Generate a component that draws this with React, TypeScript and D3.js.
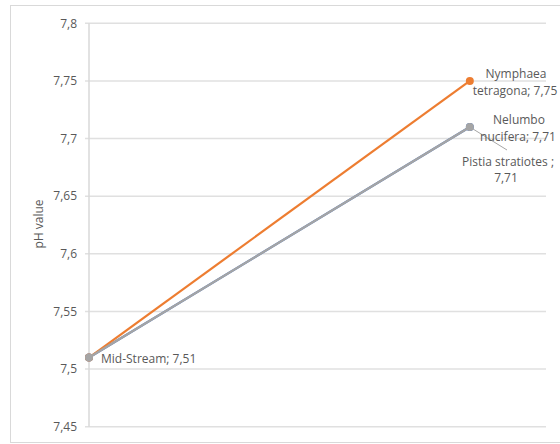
import React from "react";
import * as d3 from "d3";

const categories = ["Mid-Stream", "Plant"];
const xPositions = [0, 1];
const seriesNames = ["Nelumbo nucifera", "Nymphaea tetragona", "Pistia stratiotes "];
const nelumboValues = [7.51, 7.71];
const nymphaeaValues = [7.51, 7.75];
const pistiaValues = [7.51, 7.71];
const yTicks = [7.45, 7.5, 7.55, 7.6, 7.65, 7.7, 7.75, 7.8];
const yTitle = "pH value";

const colors = ["#4472C4", "#ED7D31", "#A5A5A5"];
const font = "Open Sans, Calibri, sans-serif";

export default function App() {
  const W = 560, H = 444;
  const x = d3.scaleLinear().domain([0, 1.2]).range([89, 546]);
  const y = d3.scaleLinear().domain([7.45, 7.8]).range([426.7, 23.3]);
  const fmt = (v: number) => String(+v.toFixed(2)).replace(".", ",");
  const line = d3.line<number>().x((_, i) => x(xPositions[i])).y((d) => y(d));
  const allSeries = [nelumboValues, nymphaeaValues, pistiaValues];
  const textColor = "#595959";

  return (
    <svg width={W} height={H} style={{ position: "absolute", left: 0, top: 0 }}>
      <rect x={0} y={0} width={W} height={H} fill="#fff" />
      <rect x={10.5} y={5.5} width={560} height={437} fill="#fff" stroke="#d9d9d9" strokeWidth={1} />
      {yTicks.map((t) => (
        <g key={t}>
          <line x1={x(0) - 4} x2={x(1.2)} y1={y(t)} y2={y(t)} stroke="#e0e0e0" strokeWidth={1.5} />
          <text x={77} y={y(t)} dy="0.35em" textAnchor="end" fontFamily={font} fontSize={12} fill={textColor}>
            {fmt(t)}
          </text>
        </g>
      ))}
      <line x1={x(0)} x2={x(0)} y1={y(7.8)} y2={y(7.45)} stroke="#d9d9d9" strokeWidth={1.5} />
      <text
        transform={`translate(39, ${224}) rotate(-90)`}
        textAnchor="middle"
        dy="0.35em"
        fontFamily={font}
        fontSize={12}
        fill={textColor}
      >
        {yTitle}
      </text>
      {allSeries.map((vals, si) => (
        <g key={si}>
          <path d={line(vals) || ""} fill="none" stroke={colors[si]} strokeWidth={2.2} />
          {vals.map((v, i) => (
            <circle key={i} cx={x(xPositions[i])} cy={y(v)} r={4} fill={colors[si]} />
          ))}
        </g>
      ))}
      {/* leader line for Pistia label */}
      <line x1={x(1)} y1={y(pistiaValues[1])} x2={507} y2={150} stroke="#a6a6a6" strokeWidth={1} />
      <g fontFamily={font} fontSize={12} fill={textColor} textAnchor="middle">
        <text x={101} y={y(nelumboValues[0]) + 1} dy="0.35em" textAnchor="start">
          {`${categories[0]}; ${fmt(pistiaValues[0])}`}
        </text>
        <text x={516} y={74} dy="0.35em">Nymphaea</text>
        <text x={515} y={91} dy="0.35em">{`tetragona; ${fmt(nymphaeaValues[1])}`}</text>
        <text x={519} y={120} dy="0.35em">Nelumbo</text>
        <text x={518} y={137} dy="0.35em">{`nucifera; ${fmt(nelumboValues[1])}`}</text>
        <text x={508} y={162} dy="0.35em">{`${seriesNames[2]};`}</text>
        <text x={506} y={178} dy="0.35em">{fmt(pistiaValues[1])}</text>
      </g>
    </svg>
  );
}
